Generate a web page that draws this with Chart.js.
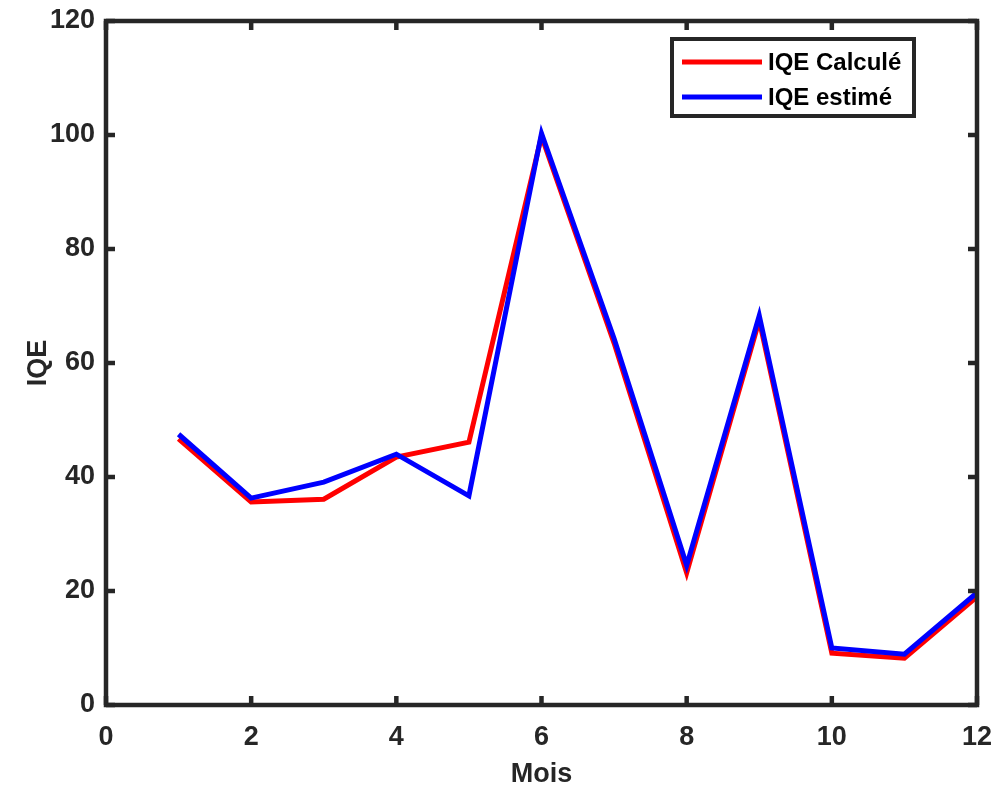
<!DOCTYPE html>
<html>
<head>
<meta charset="utf-8">
<script src="https://cdn.jsdelivr.net/npm/chart.js@4/dist/chart.umd.min.js"></script>
<style>
html,body{margin:0;padding:0;background:#fff;}
#wrap{width:994px;height:787px;position:relative;}
</style>
</head>
<body>
<div id="wrap"><canvas id="c" width="994" height="787"></canvas></div>
<script>
const months = [1,2,3,4,5,6,7,8,9,10,11,12];
const iqeCalcule = [46.7, 35.6, 36.1, 43.5, 46.1, 99.8, 63.5, 23.2, 67.5, 9.1, 8.2, 19.0];
const iqeEstime  = [47.5, 36.3, 39.1, 44.0, 36.7, 100.3, 64.3, 24.5, 68.3, 10.0, 8.9, 19.7];
const xTicks = [0,2,4,6,8,10,12];
const yTicks = [0,20,40,60,80,100,120];
const seriesLabels = ['IQE Calculé', 'IQE estimé'];
const axisColor = '#262626';
const FONT = '"Liberation Sans", Arial, sans-serif';

const toPts = (ys) => months.map((m,i) => ({x:m, y:ys[i]}));

const boxPlugin = {
  id:'boxPlugin',
  afterDatasetsDraw(chart){
    const {ctx, chartArea:a, scales:{x, y}} = chart;
    ctx.save();
    ctx.strokeStyle = axisColor;
    ctx.lineWidth = 4.5;
    ctx.lineCap = 'square';
    ctx.strokeRect(a.left, a.top, a.right - a.left, a.bottom - a.top);
    ctx.lineCap = 'butt';
    const tl = 9;
    xTicks.forEach(v => {
      const px = x.getPixelForValue(v);
      ctx.beginPath(); ctx.moveTo(px, a.bottom); ctx.lineTo(px, a.bottom - tl); ctx.stroke();
      ctx.beginPath(); ctx.moveTo(px, a.top); ctx.lineTo(px, a.top + tl); ctx.stroke();
    });
    yTicks.forEach(v => {
      const py = y.getPixelForValue(v);
      ctx.beginPath(); ctx.moveTo(a.left, py); ctx.lineTo(a.left + tl, py); ctx.stroke();
      ctx.beginPath(); ctx.moveTo(a.right, py); ctx.lineTo(a.right - tl, py); ctx.stroke();
    });
    // legend
    const lx = 672, ly = 39, lw = 242, lh = 77;
    ctx.fillStyle = '#fff';
    ctx.fillRect(lx, ly, lw, lh);
    ctx.lineWidth = 4;
    ctx.strokeStyle = axisColor;
    ctx.strokeRect(lx, ly, lw, lh);
    ctx.font = 'bold 24px ' + FONT;
    ctx.textBaseline = 'middle';
    ctx.textAlign = 'left';
    chart.data.datasets.forEach((ds, i) => {
      const yy = ly + 23 + i * 35;
      ctx.strokeStyle = ds.borderColor;
      ctx.lineWidth = 5;
      ctx.beginPath(); ctx.moveTo(682, yy); ctx.lineTo(762, yy); ctx.stroke();
      ctx.fillStyle = '#000';
      ctx.fillText(ds.label, 768, yy + 1);
    });
    ctx.restore();
  }
};

new Chart(document.getElementById('c'), {
  type:'line',
  data:{
    datasets:[
      {label:seriesLabels[0], data:toPts(iqeCalcule), borderColor:'#ff0000', borderWidth:5, pointRadius:0, fill:false, tension:0, order:2},
      {label:seriesLabels[1], data:toPts(iqeEstime), borderColor:'#0000ff', borderWidth:5, pointRadius:0, fill:false, tension:0, order:1}
    ]
  },
  options:{
    responsive:false,
    animation:false,
    devicePixelRatio:1,
    layout:{padding:{left:0, right:17, top:21, bottom:0}},
    plugins:{legend:{display:false}, tooltip:{enabled:false}},
    scales:{
      x:{
        type:'linear', min:0, max:12,
        afterBuildTicks(s){ s.ticks = xTicks.map(v => ({value:v})); },
        afterFit(s){ s.height = 82; s.paddingLeft = 0; s.paddingRight = 0; },
        grid:{display:false, drawTicks:false},
        border:{display:false},
        ticks:{color:axisColor, font:{family:FONT, weight:'bold', size:27}, padding:16, maxRotation:0},
        title:{display:true, text:'Mois', color:axisColor, font:{family:FONT, weight:'bold', size:27}, padding:{top:0, bottom:-4}}
      },
      y:{
        type:'linear', min:0, max:120,
        afterBuildTicks(s){ s.ticks = yTicks.map(v => ({value:v})); },
        afterFit(s){ s.width = 106; s.paddingTop = 0; s.paddingBottom = 0; },
        grid:{display:false, drawTicks:false},
        border:{display:false},
        ticks:{color:axisColor, font:{family:FONT, weight:'bold', size:27}, padding:11},
        title:{display:true, text:'IQE', color:axisColor, font:{family:FONT, weight:'bold', size:27}, padding:{top:22, bottom:0}}
      }
    }
  },
  plugins:[boxPlugin]
});
</script>
</body>
</html>
